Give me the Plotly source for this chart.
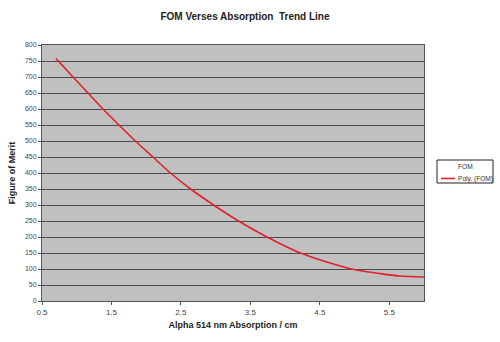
import plotly.graph_objects as go

# Trend line points
absorption = [0.70, 0.735, 0.946, 1.162, 1.378, 1.608, 1.844, 2.097, 2.35, 2.64,
              2.97, 3.33, 3.74, 4.22, 4.955, 5.36, 5.65, 6.0]
fom_trend = [758, 750, 700, 650, 600, 550, 500, 450, 400, 350,
             300, 250, 200, 150, 100, 86, 78, 75]

x_ticks = [0.5, 1.5, 2.5, 3.5, 4.5, 5.5]
x_tick_text = ["0.5", "1.5", "2.5", "3.5", "4.5", "5.5"]

series_names = ["FOM", "Poly. (FOM)"]
title = "FOM Verses Absorption  Trend Line"
x_title = "Alpha 514 nm Absorption / cm"
y_title = "Figure of Merit"

font = "Liberation Sans, Arial, sans-serif"
trend_color = "#e0202a"

fig = go.Figure()
fig.add_trace(go.Scatter(
    x=absorption, y=fom_trend, name=series_names[1], mode="lines",
    line=dict(color=trend_color, width=1.6, shape="spline", smoothing=0.8),
    showlegend=False))

# compact Excel-style legend drawn in paper coordinates
W, H = 500, 342
ml, mr, mt, mb = 42, 76, 45, 41
pw, ph = W - ml - mr, H - mt - mb


def px(xp):
    return (xp - ml) / pw


def py(yp):
    return (H - mb - yp) / ph


shapes = [
    dict(type="rect", xref="paper", yref="paper",
         x0=px(437), x1=px(493), y0=py(183), y1=py(160),
         fillcolor="white", line=dict(color="#222", width=1)),
    dict(type="line", xref="paper", yref="paper",
         x0=px(441), x1=px(455), y0=py(178.5), y1=py(178.5),
         line=dict(color=trend_color, width=1.6)),
]
annotations = [
    dict(text=series_names[0], xref="paper", yref="paper",
         x=px(456), y=py(166.5), xanchor="left", yanchor="middle",
         showarrow=False, font=dict(family=font, size=6.6, color="#333")),
    dict(text=series_names[1], xref="paper", yref="paper",
         x=px(455.5), y=py(178.5), xanchor="left", yanchor="middle",
         showarrow=False, font=dict(family=font, size=6.6, color="#333")),
]

fig.update_layout(
    width=W, height=H,
    margin=dict(l=ml, r=mr, t=mt, b=mb, autoexpand=False),
    paper_bgcolor="white", plot_bgcolor="#c0c0c0",
    title=dict(text="<b>" + title + "</b>", x=0.49, xanchor="center",
               y=1 - 16 / H, yanchor="middle",
               font=dict(family=font, size=10, color="#222")),
    font=dict(family=font, size=8, color="#333"),
    showlegend=False,
    shapes=shapes,
    annotations=annotations,
)
fig.update_xaxes(
    range=[0.5, 6.0], tickvals=x_ticks, ticktext=x_tick_text,
    showgrid=False, zeroline=False,
    showline=True, linecolor="#555", linewidth=1, mirror=True,
    ticks="outside", ticklen=3, tickcolor="#555",
    tickfont=dict(family=font, size=8, color="#444"),
    title=dict(text="<b>" + x_title + "</b>", standoff=6,
               font=dict(family=font, size=9, color="#222")),
)
fig.update_yaxes(
    range=[0, 800], dtick=50,
    showgrid=True, gridcolor="#4a4a4a", gridwidth=1.3, zeroline=False,
    showline=True, linecolor="#555", linewidth=1, mirror=True,
    ticks="outside", ticklen=3, tickcolor="#555",
    tickfont=dict(family=font, size=7, color="#444"),
    title=dict(text="<b>" + y_title + "</b>", standoff=7,
               font=dict(family=font, size=9, color="#222")),
)

fig.write_html("out.html")
